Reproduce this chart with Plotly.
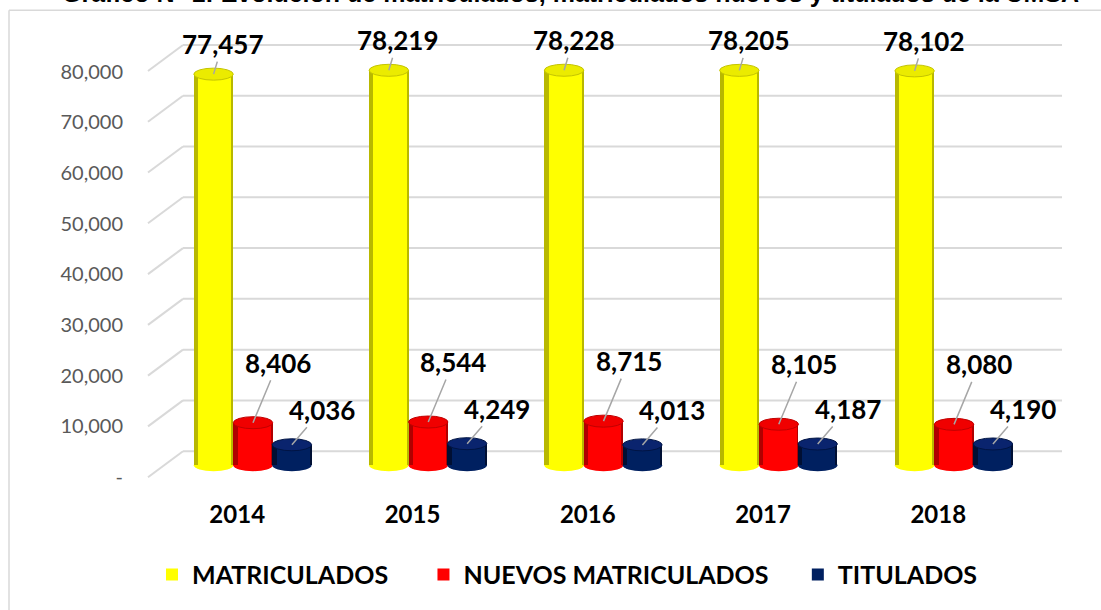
import plotly.graph_objects as go

# ---------------- data ----------------
years = ["2014", "2015", "2016", "2017", "2018"]
matriculados = [77457, 78219, 78228, 78205, 78102]
nuevos_matriculados = [8406, 8544, 8715, 8105, 8080]
titulados = [4036, 4249, 4013, 4187, 4190]
series_names = ["MATRICULADOS", "NUEVOS MATRICULADOS", "TITULADOS"]
y_tick_values = [0, 10000, 20000, 30000, 40000, 50000, 60000, 70000, 80000]
y_tick_text = ["-", "10,000", "20,000", "30,000", "40,000", "50,000", "60,000", "70,000", "80,000"]
title_text = "Gráfico N° 1: Evolución de matriculados, matriculados nuevos y titulados de la UMSA"

# ---------------- layout geometry (pixels) ----------------
W, H = 1101, 610
L, R, T, B = 148, 1062, 40, 500
PW, PH = R - L, B - T


def px_x(p):
    return (p - L) / PW


def px_y(p):
    return (B - p) / PH


idx = list(range(len(years)))
BW = 0.225
shifts = [-0.225, 0.0, 0.222]
values = [matriculados, nuevos_matriculados, titulados]
main_colors = ["#FFFF00", "#FF0000", "#002060"]
edge_colors = ["#B8B800", "#B00000", "#000F33"]
top_colors = ["#EBEB00", "#F00000", "#0A246E"]
top_lines = ["#C4C400", "#C00000", "#001444"]
label_offsets = [(9, -30), (25, -60), (30, -35)]
legend_pad = [5, 4, 0]

fig = go.Figure()

shapes = []
annotations = []

for s in range(3):
    # darker side of the cylinder
    fig.add_trace(go.Bar(
        x=idx, y=values[s], width=BW, offset=shifts[s] - BW / 2,
        marker=dict(color=edge_colors[s], line=dict(width=0)),
        showlegend=False, hoverinfo="skip",
    ))
    # bright face of the cylinder
    fig.add_trace(go.Bar(
        x=idx, y=values[s], width=BW * 0.84, offset=shifts[s] - BW / 2 + BW * 0.11,
        marker=dict(color=main_colors[s], line=dict(width=0)),
        name=series_names[s] + "\u00a0" * legend_pad[s],
        showlegend=True,
    ))
    for i, v in zip(idx, values[s]):
        cx = i + shifts[s]
        # bottom ellipse
        shapes.append(dict(
            type="circle", xref="x", yref="y", layer="below",
            x0=cx - BW / 2, x1=cx + BW / 2,
            ysizemode="pixel", yanchor=0, y0=-6, y1=6,
            fillcolor=main_colors[s], line=dict(width=0),
        ))
        # top ellipse
        shapes.append(dict(
            type="circle", xref="x", yref="y", layer="above",
            x0=cx - BW / 2, x1=cx + BW / 2,
            ysizemode="pixel", yanchor=v, y0=-6, y1=6,
            fillcolor=top_colors[s], line=dict(width=1, color=top_lines[s]),
        ))
        ax, ay = label_offsets[s]
        annotations.append(dict(
            x=cx, y=v, xref="x", yref="y", text=f"{v:,}",
            showarrow=True, arrowhead=0, arrowwidth=1.5, arrowcolor="#A6A6A6",
            ax=ax, ay=ay, standoff=0,
            font=dict(family="Lato", size=26, color="#000000", weight="bold"),
        ))

# value-axis tick labels live on the front plane (yaxis3)
fig.add_trace(go.Scatter(
    x=[None], y=[None], yaxis="y3", mode="markers",
    showlegend=False, hoverinfo="skip",
))

# back-wall gridlines with perspective connectors
for v in y_tick_values:
    shapes.append(dict(
        type="line", xref="paper", yref="y2", layer="below",
        x0=px_x(183), x1=1, y0=v, y1=v,
        line=dict(color="#D9D9D9", width=2),
    ))
    shapes.append(dict(
        type="line", xref="paper", yref="y2", layer="below",
        xsizemode="pixel", xanchor=0, x0=0, x1=35,
        ysizemode="pixel", yanchor=v, y0=-26, y1=0,
        line=dict(color="#D9D9D9", width=2),
    ))

# chart border
shapes.append(dict(type="line", xref="paper", yref="paper",
                   x0=px_x(9), x1=px_x(W + 5), y0=px_y(10), y1=px_y(10),
                   line=dict(color="#D9D9D9", width=1.5)))
shapes.append(dict(type="line", xref="paper", yref="paper",
                   x0=px_x(9), x1=px_x(9), y0=px_y(10), y1=px_y(H + 5),
                   line=dict(color="#D9D9D9", width=1.5)))

# title (partly cut off at the top, as in the reference)
annotations.append(dict(
    x=px_x(570), y=px_y(-7), xref="paper", yref="paper",
    xanchor="center", yanchor="middle", showarrow=False,
    text=title_text,
    font=dict(family="Liberation Sans", size=25, color="#000000", weight="bold"),
))

fig.update_layout(
    width=W, height=H,
    margin=dict(l=L, r=W - R, t=T, b=H - B),
    paper_bgcolor="white", plot_bgcolor="rgba(0,0,0,0)",
    barmode="overlay",
    bargap=0,
    shapes=shapes,
    annotations=annotations,
    xaxis=dict(
        range=[-0.599, 4.616], tickvals=[i - 0.09 for i in idx], ticktext=years,
        showgrid=False, zeroline=False, showline=False, ticks="",
        tickfont=dict(family="Lato", size=24, color="#000000", weight="bold"),
    ),
    yaxis=dict(range=[-6509, 84221], visible=False, fixedrange=True),
    yaxis2=dict(range=[-9216, 80980], overlaying="y", visible=False),
    yaxis3=dict(
        range=[-4126, 86247], overlaying="y", side="left", anchor="x",
        tickvals=y_tick_values, ticktext=y_tick_text,
        showgrid=False, zeroline=False, showline=False, ticks="",
        ticklabelstandoff=24,
        tickfont=dict(family="Lato", size=20, color="#595959"),
    ),
    legend=dict(
        orientation="h", x=px_x(152), xanchor="left", y=px_y(577), yanchor="middle",
        font=dict(family="Lato", size=25, color="#000000", weight="bold"),
        bgcolor="rgba(0,0,0,0)",
    ),
    showlegend=True,
)

fig.write_html("out.html", config={"displayModeBar": False},
               post_script="document.body.style.margin='0px';")
